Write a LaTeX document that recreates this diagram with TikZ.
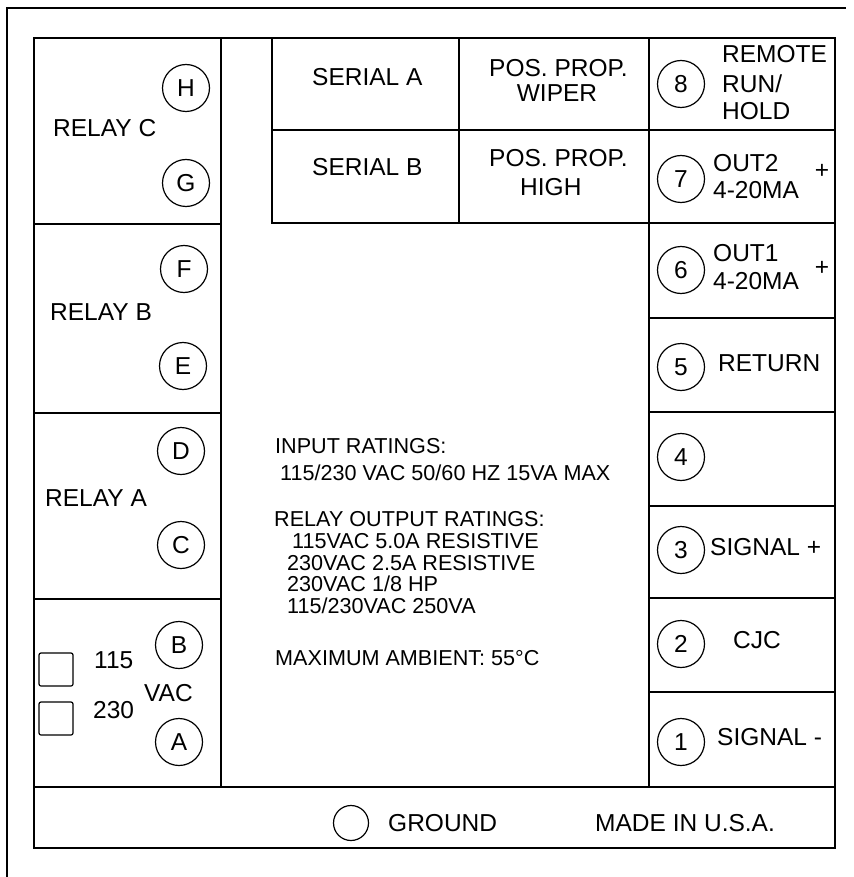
\documentclass[tikz,border=0pt]{standalone}
\usepackage{fontspec}
\setmainfont{Liberation Sans}
\newcommand\bigfnt{\fontsize{24.5}{28}\selectfont}
\newcommand\smlfnt{\fontsize{21.6}{25}\selectfont}
\begin{document}
\begin{tikzpicture}[x=1pt,y=-1pt,
  frame/.style={line width=1.7pt},
  term/.style={circle,draw,line width=1.2pt,minimum size=47pt,inner sep=0pt,font=\bigfnt},
  lbl/.style={anchor=west,inner sep=0pt,text height=17.5pt,text depth=0pt,font=\bigfnt},
  clbl/.style={anchor=center,inner sep=0pt,text height=17.5pt,text depth=0pt,font=\bigfnt},
  sml/.style={anchor=west,inner sep=0pt,text height=15.5pt,text depth=0pt,font=\smlfnt}]
\useasboundingbox (0,0) rectangle (853,877);
% outer frame (partly cut)
\draw[frame] (7,877) -- (7,8) -- (846,8);
% panel
\draw[frame] (34,38) rectangle (835,848);
\draw[frame] (34,787) -- (835,787);
\draw[frame] (221,38) -- (221,787);
\foreach \yy in {224,413,599} \draw[frame] (34,\yy) -- (221,\yy);
\draw[frame] (649,38) -- (649,787);
\foreach \yy in {130,223,318,412,506,598,692} \draw[frame] (649,\yy) -- (835,\yy);
\draw[frame] (272,38) -- (272,223) -- (649,223);
\draw[frame] (272,130) -- (649,130);
\draw[frame] (459,38) -- (459,223);
% left terminals
\node[term] (H) at (186,88) {H};
\node[term] (G) at (186,183) {G};
\node[term] (F) at (184,269) {F};
\node[term] (E) at (183,366) {E};
\node[term] (D) at (181,451) {D};
\node[term] (C) at (181,545) {C};
\node[term] (B) at (179,645) {B};
\node[term] (A) at (179,742) {A};
\node[lbl] (rc) at (53,128) {RELAY C};
\node[lbl] (rb) at (50,312) {RELAY B};
\node[lbl] (ra) at (45,498) {RELAY A};
% voltage selector
\draw[line width=1.2pt,rounded corners=2pt] (39,653) rectangle (73,686);
\draw[line width=1.2pt,rounded corners=2pt] (39,702) rectangle (73,735);
\node[lbl] (v115) at (94,660) {115};
\node[lbl] (v230) at (93,710) {230};
\node[lbl] (vac) at (144,693) {VAC};
% serial / pos prop
\node[lbl] (sa) at (312,77) {SERIAL A};
\node[lbl] (sb) at (312,167) {SERIAL B};
\node[lbl] (pp1) at (489,68) {POS. PROP.};
\node[clbl] (wip) at (557,93) {WIPER};
\node[lbl] (pp2) at (489,158) {POS. PROP.};
\node[lbl] (hig) at (520,187) {HIGH};
% right terminals
\node[term] (t8) at (681,84) {8};
\node[term] (t7) at (681,179) {7};
\node[term] (t6) at (681,270) {6};
\node[term] (t5) at (681,367) {5};
\node[term] (t4) at (681,457) {4};
\node[term] (t3) at (681,550) {3};
\node[term] (t2) at (681,644) {2};
\node[term] (t1) at (681,742) {1};
\node[lbl] (rem) at (722,54) {REMOTE};
\node[lbl] (run) at (722,84) {RUN/};
\node[lbl] (hold) at (722,111) {HOLD};
\node[lbl] (o2) at (713,163) {OUT2};
\node[lbl] (o2b) at (713,190) {4-20MA};
\node[clbl] (o2p) at (822,170) {+};
\node[lbl] (o1) at (713,253) {OUT1};
\node[lbl] (o1b) at (713,281) {4-20MA};
\node[clbl] (o1p) at (822,267) {+};
\node[lbl] (ret) at (718,363) {RETURN};
\node[lbl] (sgp) at (710,547) {SIGNAL +};
\node[clbl] (cjc) at (757,640) {CJC};
\node[lbl] (sgm) at (717,737) {SIGNAL -};
% ratings text
\node[sml] (r1) at (275,446) {INPUT RATINGS:};
\node[sml] (r2) at (280,473) {115/230 VAC 50/60 HZ 15VA MAX};
\node[sml] (r3) at (274,519) {RELAY OUTPUT RATINGS:};
\node[sml] (r4) at (292,541) {115VAC 5.0A RESISTIVE};
\node[sml] (r5) at (287,563) {230VAC 2.5A RESISTIVE};
\node[sml] (r6) at (287,584) {230VAC 1/8 HP};
\node[sml] (r7) at (287,606) {115/230VAC 250VA};
\node[sml] (r8) at (275,658) {MAXIMUM AMBIENT: 55°C};
% bottom strip
\node[circle,draw,line width=1.2pt,minimum size=35pt,inner sep=0pt] (gnd) at (351,823) {};
\node[lbl] (gt) at (388,823) {GROUND};
\node[lbl] (usa) at (595,823) {MADE IN U.S.A.};
\end{tikzpicture}
\end{document}
